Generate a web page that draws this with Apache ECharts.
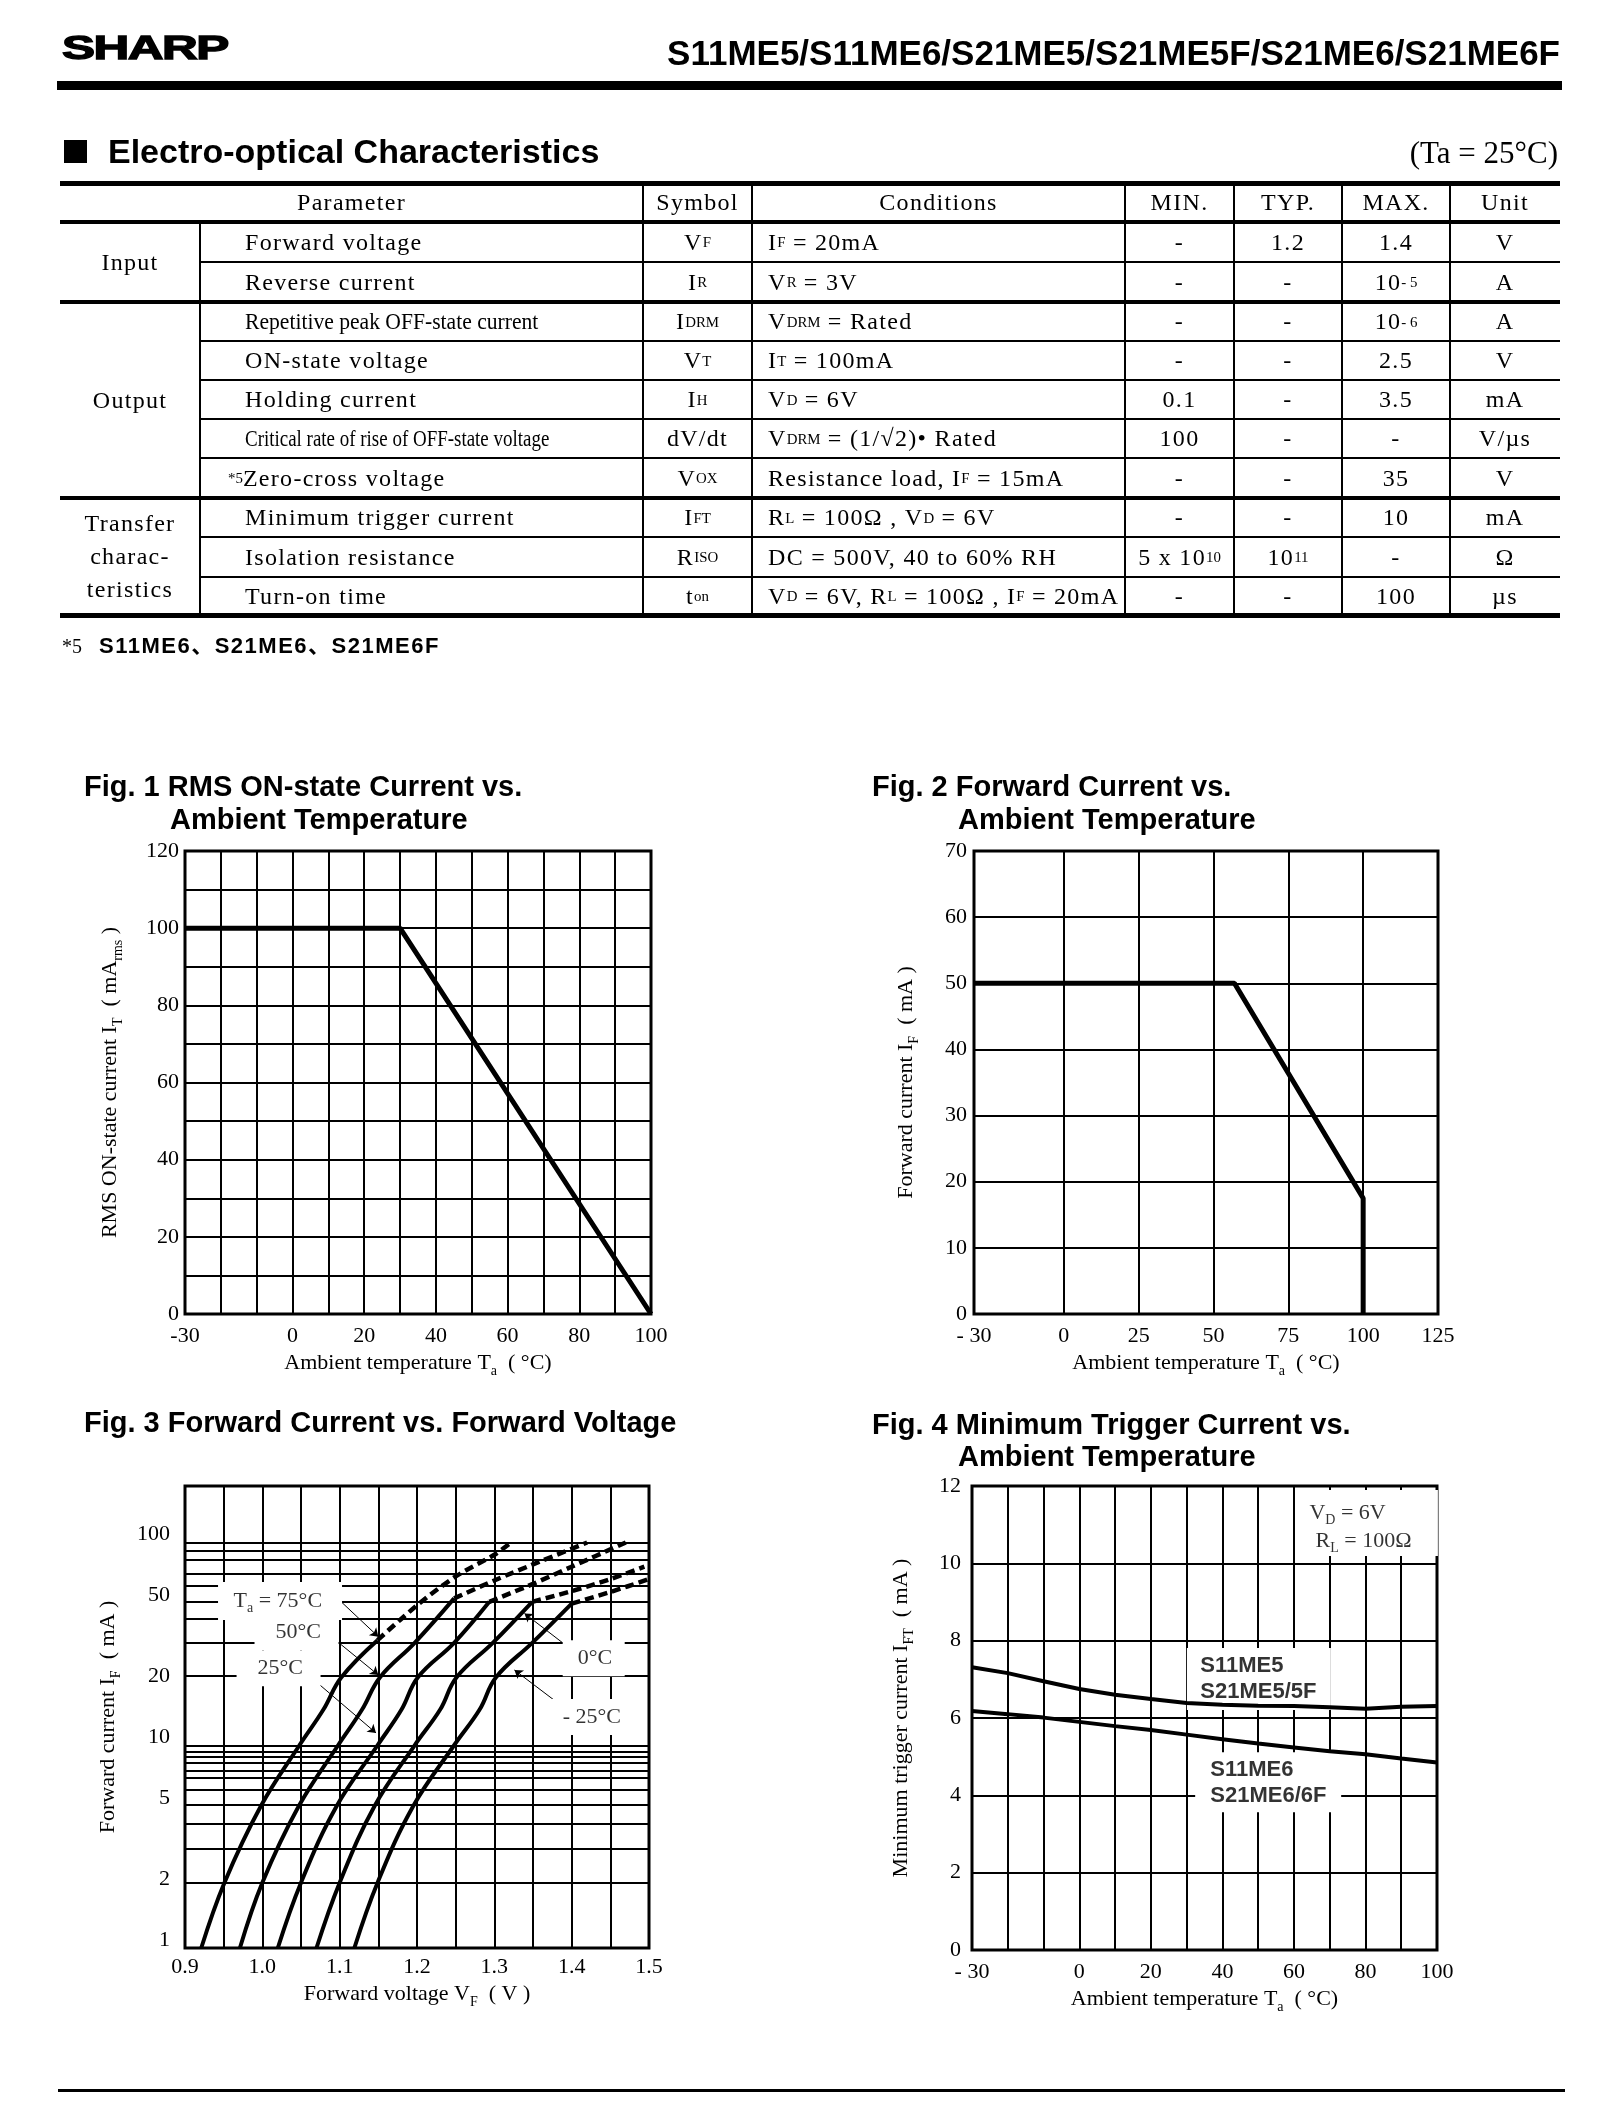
<!DOCTYPE html>
<html>
<head>
<meta charset="utf-8">
<title>S11ME5/S11ME6/S21ME5/S21ME5F/S21ME6/S21ME6F</title>
<script src="https://cdn.jsdelivr.net/npm/echarts@6/dist/echarts.min.js"></script>
<style>
  html, body { margin: 0; padding: 0; background: #fff; }
  #page { position: relative; width: 1622px; height: 2122px; overflow: hidden; background: #fff; }
  #chart { position: absolute; left: 0; top: 0; width: 1622px; height: 2122px; }
  .t { position: absolute; white-space: nowrap; color: #000; }
  .bar { position: absolute; background: #000; }
  .cell { position: absolute; display: flex; align-items: center; white-space: nowrap; color: #000;
          font-family: "Liberation Serif", "DejaVu Serif", serif; font-size: 24px; letter-spacing: 1.3px; }
  .cell.c { justify-content: center; text-align: center; }
  sub { font-size: 62%; vertical-align: -0.3em; line-height: 0; letter-spacing: 0; }
  sup { font-size: 62%; vertical-align: 0.6em; line-height: 0; letter-spacing: 0; }
  .fn { margin-left: -17px; }
  .sq { display: inline-block; transform-origin: left center; letter-spacing: 0; }
</style>
</head>
<body>
<div id="page">
  <div id="chart"></div>

  <div class="t" style="left:62px;top:28px;font:900 33px/40px 'Liberation Sans',Arial,sans-serif;-webkit-text-stroke:1.3px #000;letter-spacing:-1px;transform:scaleX(1.5);transform-origin:left center;">SHARP</div>
  <div class="t" style="right:62px;top:33px;font:bold 35px/40px 'Liberation Sans',Arial,sans-serif;">S11ME5/S11ME6/S21ME5/S21ME5F/S21ME6/S21ME6F</div>
  <div class="bar" style="left:57px;top:81px;width:1505px;height:9px;"></div>

  <div class="bar" style="left:64px;top:140px;width:23px;height:23px;"></div>
  <div class="t" style="left:108px;top:131px;font:bold 34px/40px 'Liberation Sans',Arial,sans-serif;">Electro-optical Characteristics</div>
  <div class="t" style="right:64px;top:133px;font:31px/40px 'Liberation Serif',serif;">(Ta = 25°C)</div>

  <div class="t" style="left:62px;top:631px;font:20px/30px 'Liberation Serif',serif;">*5</div>
  <div class="t" style="left:99px;top:631px;font:bold 22px/30px 'Liberation Sans','Noto Sans CJK JP',sans-serif;letter-spacing:1.5px;">S11ME6、S21ME6、S21ME6F</div>

  <div class="bar" style="left:58px;top:2089px;width:1507px;height:3px;"></div>
</div>

<script>
// ---------- table data ----------
const tableColX = [60, 200, 643, 752, 1125, 1234, 1342, 1450, 1560];
const tableRowY = [183, 222, 262, 302, 341, 380, 419, 458, 498, 537, 577, 615];
const headers = ['Parameter', 'Symbol', 'Conditions', 'MIN.', 'TYP.', 'MAX.', 'Unit'];
const groups = [
  { label: 'Input', from: 0, to: 2 },
  { label: 'Output', from: 2, to: 7 },
  { label: 'Transfer<br>charac-<br>teristics', from: 7, to: 10 }
];
const parameters = ['Forward voltage', 'Reverse current', 'Repetitive peak OFF-state current',
  'ON-state voltage', 'Holding current', 'Critical rate of rise of OFF-state voltage',
  '<sup class="fn">*5</sup>Zero-cross voltage', 'Minimum trigger current', 'Isolation resistance', 'Turn-on time'];
const paramScale = [1, 1, 0.9, 1, 1, 0.79, 1, 1, 1, 1];
const symbols = ['V<sub>F</sub>', 'I<sub>R</sub>', 'I<sub>DRM</sub>', 'V<sub>T</sub>', 'I<sub>H</sub>',
  'dV/dt', 'V<sub>OX</sub>', 'I<sub>FT</sub>', 'R<sub>ISO</sub>', 't<sub>on</sub>'];
const conditions = ['I<sub>F</sub>&nbsp;= 20mA', 'V<sub>R</sub>&nbsp;= 3V', 'V<sub>DRM</sub>&nbsp;= Rated', 'I<sub>T</sub>&nbsp;= 100mA',
  'V<sub>D</sub>&nbsp;= 6V', 'V<sub>DRM</sub>&nbsp;= (1/√2)• Rated', 'Resistance load, I<sub>F</sub>&nbsp;= 15mA',
  'R<sub>L</sub>&nbsp;= 100Ω , V<sub>D</sub>&nbsp;= 6V', 'DC = 500V, 40 to 60% RH',
  'V<sub>D</sub>&nbsp;= 6V, R<sub>L</sub>&nbsp;= 100Ω , I<sub>F</sub>&nbsp;= 20mA'];
const minVals = ['-', '-', '-', '-', '0.1', '100', '-', '-', '5 x 10<sup>10</sup>', '-'];
const typVals = ['1.2', '-', '-', '-', '-', '-', '-', '-', '10<sup>11</sup>', '-'];
const maxVals = ['1.4', '10<sup>- 5</sup>', '10<sup>- 6</sup>', '2.5', '3.5', '-', '35', '10', '-', '100'];
const units = ['V', 'A', 'A', 'V', 'mA', 'V/µs', 'V', 'mA', 'Ω', 'µs'];

// ---------- figure data ----------
// Fig. 1  RMS ON-state current vs ambient temperature
const fig1Points = [[-30, 100], [30, 100], [100, 0]];
const fig1XLabels = [-30, 0, 20, 40, 60, 80, 100];
// Fig. 2  forward current vs ambient temperature
const fig2Points = [[-30, 50], [57, 50], [100, 17.5], [100, 0]];
const fig2XTicks = [-30, 0, 25, 50, 75, 100, 125];
// Fig. 3  forward current vs forward voltage (log scale)
const fig3Temps = ['75°C', '50°C', '25°C', '0°C', '-25°C'];
const fig3Solid = [
  [[0.921, 1], [0.951, 2.1], [0.998, 5], [1.048, 10], [1.079, 15], [1.102, 21.6], [1.149, 33]],
  [[0.971, 1], [1.0, 2.1], [1.047, 5], [1.098, 10], [1.129, 15], [1.152, 21.6], [1.197, 32], [1.248, 53]],
  [[1.020, 1], [1.05, 2.1], [1.096, 5], [1.149, 10], [1.180, 15], [1.201, 21.6], [1.248, 32], [1.2935, 51]],
  [[1.070, 1], [1.10, 2.1], [1.145, 5], [1.197, 10], [1.230, 15], [1.251, 21.6], [1.298, 32], [1.349, 51]],
  [[1.119, 1], [1.149, 2.1], [1.195, 5], [1.248, 10], [1.281, 15], [1.302, 21.6], [1.349, 32], [1.40, 50]]
];
const fig3Dashed = [
  [[1.149, 33], [1.20, 49], [1.25, 68], [1.30, 87], [1.3215, 100]],
  [[1.248, 53], [1.30, 65], [1.35, 78], [1.42, 100]],
  [[1.2935, 51], [1.35, 62.5], [1.40, 76], [1.47, 100]],
  [[1.349, 51], [1.40, 57.6], [1.45, 66], [1.494, 76]],
  [[1.40, 50], [1.45, 57], [1.50, 66]]
];
const fig3GridLines = [2.1, 3.1, 4.1, 5.1, 6, 6.9, 7.5, 8.2, 8.8, 9.3, 10, 22, 32, 42, 51, 61, 70, 82, 91, 100];
const fig3YLabels = [1, 2, 5, 10, 20, 50, 100];
const fig3LabelText = ['T{sub|a} = 75°C', '50°C', '25°C', '0°C', '- 25°C'];
const fig3LabelPos = [[0.9621, 51.4], [1.0164, 36.2], [0.9931, 24.0], [1.4071, 26.9], [1.3877, 13.8]];
const fig3BoxPos = [[1.0229, 51.4], [1.0442, 36.2], [1.0210, 24.0], [1.4285, 26.9], [1.4220, 13.8]];
const fig3Leaders = [
  [[1.102, 51], [1.150, 34.3]],
  [[1.087, 34.9], [1.150, 22.2]],
  [[1.057, 22.6], [1.147, 11.5]],
  [[1.395, 30.6], [1.339, 44.7]],
  [[1.380, 16.4], [1.326, 23.5]]
];
// Fig. 4  minimum trigger current vs ambient temperature
const fig4Temp = [-30, -20, -10, 0, 10, 20, 30, 40, 50, 60, 70, 80, 90, 100];
const fig4ME5 = [7.31, 7.16, 6.95, 6.75, 6.6, 6.49, 6.39, 6.34, 6.32, 6.31, 6.28, 6.24, 6.29, 6.31];
const fig4ME6 = [6.18, 6.10, 6.01, 5.90, 5.79, 5.69, 5.57, 5.45, 5.34, 5.24, 5.14, 5.06, 4.95, 4.85];
const fig4XLabels = [-30, 0, 20, 40, 60, 80, 100];
const fig4LabelText = ['V{sub|D} = 6V', 'R{sub|L} = 100Ω', 'S11ME5\nS21ME5/5F', 'S11ME6\nS21ME6/6F'];
const fig4LabelPos = [[64.2, 11.30], [65.9, 10.58], [33.7, 7.01], [36.5, 4.33]];
const fig4BoxPos = [[80.4, 11.04], [50.2, 7.01], [52.8, 4.34]];

// ---------- table ----------
const page = document.getElementById('page');
function add(cls, style, html) {
  const d = document.createElement('div');
  d.className = cls;
  d.style.cssText = style;
  if (html != null) d.innerHTML = html;
  page.appendChild(d);
  return d;
}
function cell(x0, x1, y0, y1, html, center, extra) {
  add('cell' + (center ? ' c' : ''),
    `left:${x0}px;width:${x1 - x0}px;top:${y0}px;height:${y1 - y0}px;` + (extra || ''), html);
}
function hline(x0, x1, y, h) { add('bar', `left:${x0}px;width:${x1 - x0}px;top:${y - h / 2}px;height:${h}px;`); }
function vline(x, y0, y1) { add('bar', `left:${x - 1}px;width:2px;top:${y0}px;height:${y1 - y0}px;`); }

const X = tableColX, Y = tableRowY;
cell(X[0], X[2], Y[0], Y[1], headers[0], true);
for (let k = 1; k < headers.length; k++) cell(X[k + 1], X[k + 2], Y[0], Y[1], headers[k], true);
for (let i = 0; i < parameters.length; i++) {
  const y0 = Y[i + 1], y1 = Y[i + 2];
  const p = paramScale[i] === 1 ? parameters[i]
    : `<span class="sq" style="transform:scaleX(${paramScale[i]})">${parameters[i]}</span>`;
  cell(X[1] + 45, X[2], y0, y1, p, false);
  cell(X[2], X[3], y0, y1, symbols[i], true);
  cell(X[3] + 16, X[4], y0, y1, conditions[i], false);
  cell(X[4], X[5], y0, y1, minVals[i], true);
  cell(X[5], X[6], y0, y1, typVals[i], true);
  cell(X[6], X[7], y0, y1, maxVals[i], true);
  cell(X[7], X[8], y0, y1, units[i], true);
}
groups.forEach(g => cell(X[0], X[1], Y[g.from + 1], Y[g.to + 1], g.label, true, 'line-height:33px;'));
[0, 11].forEach(r => hline(X[0], X[8], Y[r], 5));
[1, 3, 8].forEach(r => hline(X[0], X[8], Y[r], 4));
[2, 4, 5, 6, 7, 9, 10].forEach(r => hline(X[1], X[8], Y[r], 2));
vline(X[1], Y[1], Y[11]);
for (let k = 2; k <= 7; k++) vline(X[k], Y[0], Y[11]);

// ---------- charts ----------
const SERIF = '"Liberation Serif", "DejaVu Serif", serif';
const SANS = '"Liberation Sans", Arial, sans-serif';
const subRich = { sub: { fontFamily: SERIF, fontSize: 14, color: '#000', verticalAlign: 'bottom' } };
const nameStyle = { color: '#000', fontFamily: SERIF, fontSize: 22, lineHeight: 30, rich: subRich };
const splitStyle = { show: true, lineStyle: { color: '#000', width: 2, type: 'solid' } };
const tickLabel = (margin, formatter, extra) =>
  Object.assign({ color: '#000', fontFamily: SERIF, fontSize: 22, margin: margin, formatter: formatter }, extra || {});
const minus = v => (v < 0 ? '- ' + (-v) : String(v));
const baseAxis = { type: 'value', axisLine: { show: false }, axisTick: { show: false },
  splitLine: splitStyle, nameLocation: 'middle', nameTextStyle: nameStyle };
const axis = o => Object.assign({}, baseAxis, o);

const gridBox = { show: true, borderColor: '#000', borderWidth: 3, backgroundColor: 'rgba(0,0,0,0)',
  containLabel: false, outerBoundsMode: 'none' };

const titleLines = [
  ['Fig. 1 RMS ON-state Current vs.', 84, 773],
  ['Ambient Temperature', 170, 806],
  ['Fig. 2 Forward Current vs.', 872, 773],
  ['Ambient Temperature', 958, 806],
  ['Fig. 3 Forward Current vs. Forward Voltage', 84, 1409],
  ['Fig. 4 Minimum Trigger Current vs.', 872, 1411],
  ['Ambient Temperature', 958, 1443]
];

// text anchored by its left edge on the data point
const textLabel = extra => Object.assign({ show: true, position: 'right', distance: 0, align: 'left',
  color: '#000', rich: subRich }, extra);
// white patches that clear the grid behind the annotations
const whiteBoxes = (name, xi, pos, sizes) => ({
  name: name, type: 'scatter', xAxisIndex: xi, yAxisIndex: xi, z: 5, silent: true,
  symbol: 'rect', itemStyle: { color: '#fff', opacity: 1 }, label: { show: false },
  data: pos.map((p, i) => ({ value: p, symbolSize: sizes[i] }))
});

const fig3Series = [];
fig3Solid.forEach((pts, i) => fig3Series.push({
  name: fig3Temps[i], type: 'line', xAxisIndex: 2, yAxisIndex: 2, data: pts, symbol: 'none',
  smooth: 0.4, z: 7, lineStyle: { color: '#000', width: 4 }
}));
fig3Dashed.forEach((pts, i) => fig3Series.push({
  name: fig3Temps[i] + ' (dashed)', type: 'line', xAxisIndex: 2, yAxisIndex: 2, data: pts, symbol: 'none',
  smooth: 0.3, z: 7, lineStyle: { color: '#000', width: 4.5, type: [9, 5] }
}));

const option = {
  animation: false,
  backgroundColor: 'rgba(0,0,0,0)',
  title: titleLines.map(t => ({ text: t[0], left: t[1], top: t[2], padding: 0,
    textStyle: { fontFamily: SANS, fontWeight: 'bold', fontSize: 29, color: '#000' } })),
  grid: [
    Object.assign({ left: 185, top: 851, width: 466, height: 463 }, gridBox),
    Object.assign({ left: 974, top: 851, width: 464, height: 463 }, gridBox),
    Object.assign({ left: 185, top: 1486, width: 464, height: 462 }, gridBox),
    Object.assign({ left: 972, top: 1486, width: 465, height: 464 }, gridBox)
  ],
  xAxis: [
    axis({ gridIndex: 0, min: -30, max: 100, interval: 10,
      axisLabel: tickLabel(11, v => (fig1XLabels.includes(Math.round(v)) ? String(Math.round(v)) : '')),
      name: 'Ambient temperature T{sub|a}  ( °C)', nameGap: 32 }),
    axis({ gridIndex: 1, min: -30, max: 125,
      axisTick: { show: false, customValues: fig2XTicks },
      axisLabel: tickLabel(11, v => minus(Math.round(v)), { customValues: fig2XTicks }),
      name: 'Ambient temperature T{sub|a}  ( °C)', nameGap: 32 }),
    axis({ gridIndex: 2, min: 0.9, max: 1.5, interval: 0.05,
      axisLabel: tickLabel(8, v => { const r = Math.round(v * 100); return r % 10 === 0 ? (r / 100).toFixed(1) : ''; }),
      name: 'Forward voltage V{sub|F}  ( V )', nameGap: 30 }),
    axis({ gridIndex: 3, min: -30, max: 100, interval: 10,
      axisLabel: tickLabel(11, v => (fig4XLabels.includes(Math.round(v)) ? minus(Math.round(v)) : '')),
      name: 'Ambient temperature T{sub|a}  ( °C)', nameGap: 32 })
  ],
  yAxis: [
    axis({ gridIndex: 0, min: 0, max: 120, interval: 10,
      axisLabel: tickLabel(6, v => (Math.round(v) % 20 === 0 ? String(Math.round(v)) : '')),
      name: 'RMS ON-state current I{sub|T}  ( mA{sub|rms} )', nameGap: 60 }),
    axis({ gridIndex: 1, min: 0, max: 70, interval: 10,
      axisLabel: tickLabel(7, v => String(Math.round(v))),
      name: 'Forward current I{sub|F}  ( mA )', nameGap: 53 }),
    axis({ gridIndex: 2, type: 'log', logBase: 10, min: 1, max: 190,
      axisLabel: { show: false }, splitLine: { show: false },
      name: 'Forward current I{sub|F}  ( mA )', nameGap: 62 }),
    axis({ gridIndex: 3, min: 0, max: 12, interval: 2,
      axisLabel: tickLabel(11, v => String(Math.round(v))),
      name: 'Minimum trigger current I{sub|FT}  ( mA )', nameGap: 56 })
  ],
  series: [
    { name: 'Fig1', type: 'line', xAxisIndex: 0, yAxisIndex: 0, data: fig1Points, symbol: 'none', z: 7,
      lineStyle: { color: '#000', width: 5 } },
    { name: 'Fig2', type: 'line', xAxisIndex: 1, yAxisIndex: 1, data: fig2Points, symbol: 'none', z: 7,
      lineStyle: { color: '#000', width: 5 } },
    { name: 'Fig3 grid', type: 'line', xAxisIndex: 2, yAxisIndex: 2, data: [], z: 1,
      markLine: {
        silent: true, symbol: 'none', z: 1, animation: false,
        label: { show: false },
        lineStyle: { color: '#000', width: 2, type: 'solid' },
        data: fig3GridLines.map(v => ({ yAxis: v }))
          .concat(fig3YLabels.map(v => ({ yAxis: v, lineStyle: { color: 'rgba(0,0,0,0)', width: 1 },
            label: { show: true, position: 'start', distance: 15, formatter: v + '\n ', color: '#000',
              fontFamily: SERIF, fontSize: 22, lineHeight: 16 } })))
      } },
    whiteBoxes('Fig3 boxes', 2, fig3BoxPos, [[124, 38], [84, 36], [84, 36], [62, 36], [78, 36]]),
    ...fig3Series,
    { name: 'Fig3 labels', type: 'scatter', xAxisIndex: 2, yAxisIndex: 2, z: 6, symbolSize: 1,
      itemStyle: { color: 'rgba(0,0,0,0)' },
      data: fig3LabelPos,
      label: textLabel({ fontFamily: SERIF, fontSize: 22, lineHeight: 28,
        formatter: p => fig3LabelText[p.dataIndex] }),
      markLine: { silent: true, symbol: ['none', 'arrow'], symbolSize: 8, animation: false,
        label: { show: false }, lineStyle: { color: '#000', width: 1, type: 'solid' },
        data: fig3Leaders.map(l => [{ coord: l[0] }, { coord: l[1] }]) } },
    whiteBoxes('Fig4 boxes', 3, fig4BoxPos, [[142, 66], [144, 62], [146, 60]]),
    { name: 'S11ME5 / S21ME5/5F', type: 'line', xAxisIndex: 3, yAxisIndex: 3, symbol: 'none', z: 7,
      data: fig4Temp.map((t, i) => [t, fig4ME5[i]]), lineStyle: { color: '#000', width: 4 } },
    { name: 'S11ME6 / S21ME6/6F', type: 'line', xAxisIndex: 3, yAxisIndex: 3, symbol: 'none', z: 7,
      data: fig4Temp.map((t, i) => [t, fig4ME6[i]]), lineStyle: { color: '#000', width: 4 } },
    { name: 'Fig4 labels', type: 'scatter', xAxisIndex: 3, yAxisIndex: 3, z: 6, symbolSize: 1,
      itemStyle: { color: 'rgba(0,0,0,0)' },
      data: fig4LabelPos.map((p, i) => ({ value: p,
        label: i < 2
          ? textLabel({ fontFamily: SERIF, fontWeight: 'normal', fontSize: 22, lineHeight: 28,
              formatter: () => fig4LabelText[i] })
          : textLabel({ fontFamily: SANS, fontWeight: 'bold', fontSize: 22, lineHeight: 26,
              formatter: () => fig4LabelText[i] }) })),
      label: textLabel({}) }
  ]
};

const chart = echarts.init(document.getElementById('chart'), null, { renderer: 'canvas' });
chart.setOption(option);
</script>
</body>
</html>
